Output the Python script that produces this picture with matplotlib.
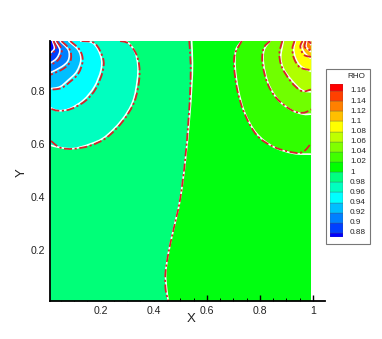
import matplotlib
matplotlib.use("Agg")
from matplotlib import pyplot as plt
from matplotlib.path import Path
from matplotlib.patches import PathPatch, Rectangle

plt.rcParams['font.family'] = ['Liberation Sans', 'DejaVu Sans']

# Contour lines: w = white set, r = red dash-dot set
c100_wx = [.543, .546, .543, .534, .518, .499, .474, .455, .445, .449, .455]
c100_wy = [.990, .905, .817, .691, .528, .389, .276, .188, .113, .050, .009]
c100_rx = [.534, .539, .538, .531, .517, .499, .474, .455, .444, .445, .455]
c100_ry = [.990, .905, .817, .691, .528, .389, .276, .188, .113, .050, .009]

# left corner, low density
c098_wx = [.273, .304, .329, .340, .338, .321, .279, .216, .160, .097, .046, .009]
c098_wy = [.990, .983, .949, .899, .842, .761, .691, .628, .601, .584, .588, .597]
c098_rx = [.273, .304, .332, .345, .345, .327, .285, .223, .160, .097, .046, .009]
c098_ry = [.990, .981, .945, .899, .842, .761, .689, .626, .595, .583, .588, .616]
c096_wx = [.122, .172, .201, .201, .176, .135, .084, .040, .009]
c096_wy = [.990, .981, .930, .880, .817, .767, .735, .727, .739]
c096_rx = [.128, .178, .209, .207, .182, .141, .084, .040, .009]
c096_ry = [.990, .981, .924, .874, .811, .763, .732, .727, .735]
c094_wx = [.078, .115, .125, .109, .078, .046, .009]
c094_wy = [.990, .956, .918, .874, .843, .817, .810]
c094_rx = [.085, .121, .132, .116, .084, .050, .009]
c094_ry = [.990, .956, .915, .868, .836, .812, .806]
c092_wx = [.046, .078, .078, .053, .009]
c092_wy = [.990, .956, .918, .893, .870]
c092_rx = [.052, .084, .086, .060, .009]
c092_ry = [.990, .956, .915, .886, .862]
c090_wx = [.028, .046, .034, .009]
c090_wy = [.990, .956, .925, .906]
c090_rx = [.034, .053, .041, .009]
c090_ry = [.990, .956, .920, .898]
c088_wx = [.018, .025, .009]
c088_wy = [.990, .962, .944]
c088_rx = [.022, .031, .009]
c088_ry = [.990, .960, .936]

# right corner, high density
c102_wx = [.732, .710, .707, .719, .744, .788, .851, .927, .993]
c102_wy = [.990, .956, .893, .805, .717, .641, .591, .566, .563]
c102_rx = [.732, .707, .703, .715, .742, .788, .851, .927, .964, .993]
c102_ry = [.990, .943, .893, .805, .717, .635, .591, .569, .572, .603]
c104_wx = [.839, .816, .814, .832, .870, .920, .964, .993]
c104_wy = [.990, .956, .905, .830, .767, .729, .714, .714]
c104_rx = [.839, .814, .810, .829, .864, .920, .964, .993]
c104_ry = [.990, .962, .905, .830, .773, .729, .719, .732]
c106_wx = [.889, .879, .889, .920, .958, .993]
c106_wy = [.990, .930, .886, .842, .805, .798]
c106_rx = [.885, .874, .883, .918, .958, .993]
c106_ry = [.990, .943, .892, .836, .801, .807]
c108_wx = [.935, .928, .935, .955, .993]
c108_wy = [.990, .960, .925, .895, .875]
c108_rx = [.931, .923, .930, .952, .993]
c108_ry = [.990, .960, .922, .890, .880]
c110_wx = [.965, .958, .971, .993]
c110_wy = [.990, .968, .943, .924]
c110_rx = [.961, .953, .966, .993]
c110_ry = [.990, .968, .938, .930]
c112_wx = [.977, .975, .993]
c112_wy = [.990, .968, .949]
c112_rx = [.973, .970, .993]
c112_ry = [.990, .966, .954]
c114_wx = [.987, .993]
c114_wy = [.990, .974]
c114_rx = [.983, .993]
c114_ry = [.990, .980]

left_levels = [
    (c098_wx, c098_wy, c098_rx, c098_ry, '#00ffbf'),
    (c096_wx, c096_wy, c096_rx, c096_ry, '#00ffff'),
    (c094_wx, c094_wy, c094_rx, c094_ry, '#00bfff'),
    (c092_wx, c092_wy, c092_rx, c092_ry, '#0080ff'),
    (c090_wx, c090_wy, c090_rx, c090_ry, '#0040ff'),
    (c088_wx, c088_wy, c088_rx, c088_ry, '#0000ff'),
]
right_levels = [
    (c102_wx, c102_wy, c102_rx, c102_ry, '#30ff00'),
    (c104_wx, c104_wy, c104_rx, c104_ry, '#70ff00'),
    (c106_wx, c106_wy, c106_rx, c106_ry, '#b0ff00'),
    (c108_wx, c108_wy, c108_rx, c108_ry, '#ffff00'),
    (c110_wx, c110_wy, c110_rx, c110_ry, '#ffbf00'),
    (c112_wx, c112_wy, c112_rx, c112_ry, '#ff8000'),
    (c114_wx, c114_wy, c114_rx, c114_ry, '#ff4000'),
]

# Legend
legend_edges = [.8727, .88, .90, .92, .94, .96, .98, 1.0, 1.02, 1.04, 1.06, 1.08, 1.10, 1.12, 1.14, 1.16, 1.1732]
legend_colors = ['#0000ff', '#0040ff', '#0080ff', '#00bfff', '#00ffff', '#00ffbf', '#00ff80', '#00ff00',
                 '#40ff00', '#80ff00', '#bfff00', '#ffff00', '#ffbf00', '#ff8000', '#ff4000', '#ff0000']
legend_ticks = [.88, .90, .92, .94, .96, .98, 1.0, 1.02, 1.04, 1.06, 1.08, 1.10, 1.12, 1.14, 1.16]
legend_labels = ['0.88', '0.9', '0.92', '0.94', '0.96', '0.98', '1', '1.02', '1.04', '1.06', '1.08', '1.1', '1.12', '1.14', '1.16']

x_major = [.2, .4, .6, .8, 1.0]
y_major = [.2, .4, .6, .8]
x_labels = ['0.2', '0.4', '0.6', '0.8', '1']
y_labels = ['0.2', '0.4', '0.6', '0.8']
x_minor = [.05, .1, .15, .25, .3, .35, .45, .5, .55, .65, .7, .75, .85, .9, .95]
y_minor = [.05, .1, .15, .25, .3, .35, .45, .5, .55, .65, .7, .75, .85, .9, .95]

field_x = (.009, .993)
field_y = (.009, .99)


def curve(xs, ys):
    # Catmull-Rom through the read points, as bezier segments
    pts = list(zip(xs, ys))
    verts = [pts[0]]
    codes = [Path.MOVETO]
    for i in range(len(pts) - 1):
        p0 = pts[max(i - 1, 0)]
        p1 = pts[i]
        p2 = pts[i + 1]
        p3 = pts[min(i + 2, len(pts) - 1)]
        verts.append((p1[0] + (p2[0] - p0[0]) / 6, p1[1] + (p2[1] - p0[1]) / 6))
        verts.append((p2[0] - (p3[0] - p1[0]) / 6, p2[1] - (p3[1] - p1[1]) / 6))
        verts.append(p2)
        codes += [Path.CURVE4] * 3
    return verts, codes


def fill_region(ax, xs, ys, corners, color):
    verts, codes = curve(xs, ys)
    verts = verts + corners + [verts[0]]
    codes = codes + [Path.LINETO] * len(corners) + [Path.CLOSEPOLY]
    ax.add_patch(PathPatch(Path(verts, codes), facecolor=color, edgecolor=color, lw=0.2, zorder=2))


def draw_lines(ax, wx, wy, rx, ry):
    v, c = curve(wx, wy)
    ax.add_patch(PathPatch(Path(v, c), fill=False, edgecolor='white', lw=1.2, zorder=5))
    v, c = curve(rx, ry)
    ax.add_patch(PathPatch(Path(v, c), fill=False, edgecolor='#d8202a', lw=1.3,
                           linestyle=(0, (4.5, 1.4, 1.2, 1.4)), zorder=6))


fig = plt.figure(figsize=(3.82, 3.39), dpi=100)
ax = fig.add_axes([50 / 382, 38 / 339, 275 / 382, 260 / 339])
ax.set_xlim(.0087, 1.046)
ax.set_ylim(.0087, .99)

ax.add_patch(Rectangle((field_x[0], field_y[0]), field_x[1] - field_x[0], field_y[1] - field_y[0],
                       facecolor='#00ff10', edgecolor='none', zorder=1))
fill_region(ax, c100_wx, c100_wy, [(field_x[0], field_y[0]), (field_x[0], field_y[1])], '#00ff78')
for wx, wy, rx, ry, col in left_levels:
    fill_region(ax, wx, wy, [(field_x[0], field_y[1])], col)
for wx, wy, rx, ry, col in right_levels:
    fill_region(ax, wx, wy, [(field_x[1], field_y[1])], col)

draw_lines(ax, c100_wx, c100_wy, c100_rx, c100_ry)
for wx, wy, rx, ry, col in left_levels + right_levels:
    draw_lines(ax, wx, wy, rx, ry)

ax.spines['top'].set_visible(False)
ax.spines['right'].set_visible(False)
ax.spines['left'].set_linewidth(1.3)
ax.spines['bottom'].set_linewidth(1.3)
ax.spines['left'].set_zorder(8)
ax.spines['bottom'].set_zorder(8)
ax.set_xticks(x_major)
ax.set_xticklabels(x_labels)
ax.set_yticks(y_major)
ax.set_yticklabels(y_labels)
ax.set_xticks(x_minor, minor=True)
ax.set_yticks(y_minor, minor=True)
ax.tick_params(which='major', direction='in', length=4.6, width=1.0, labelsize=7.6, pad=3.5, labelcolor='#222222', zorder=8)
ax.tick_params(which='minor', direction='in', length=2.4, width=0.7, zorder=8)
ax.set_xlabel('X', fontsize=9.5, color='#222222')
ax.set_ylabel('Y', fontsize=9.5, color='#222222')
ax.xaxis.set_label_coords(141 / 275, -12 / 260)
ax.yaxis.set_label_coords(-22 / 275, 128 / 260)

# Legend box and colour bands
box = Rectangle((326 / 382, (339 - 244) / 339), 43.5 / 382, 175 / 339, transform=fig.transFigure,
                facecolor='white', edgecolor='#777777', lw=0.8, zorder=-1)
fig.add_artist(box)
cax = fig.add_axes([330 / 382, (339 - 236.7) / 339, 12.7 / 382, 152.4 / 339])
cax.set_xlim(0, 1)
cax.set_ylim(legend_edges[0], legend_edges[-1])
cax.axis('off')
for i, col in enumerate(legend_colors):
    cax.bar(0.5, legend_edges[i + 1] - legend_edges[i], width=1, bottom=legend_edges[i], color=col,
            edgecolor='#555555', linewidth=0.2)
for val, lab in zip(legend_ticks, legend_labels):
    cax.text(20 / 12.7, val, lab, fontsize=5.9, va='center', ha='left', color='#222222', clip_on=False)
cax.text(17.7 / 12.7, 1.1732 + 0.0150, 'RHO', fontsize=5.9, va='center', ha='left', color='#222222', clip_on=False)

plt.savefig('out.png', dpi=100)
